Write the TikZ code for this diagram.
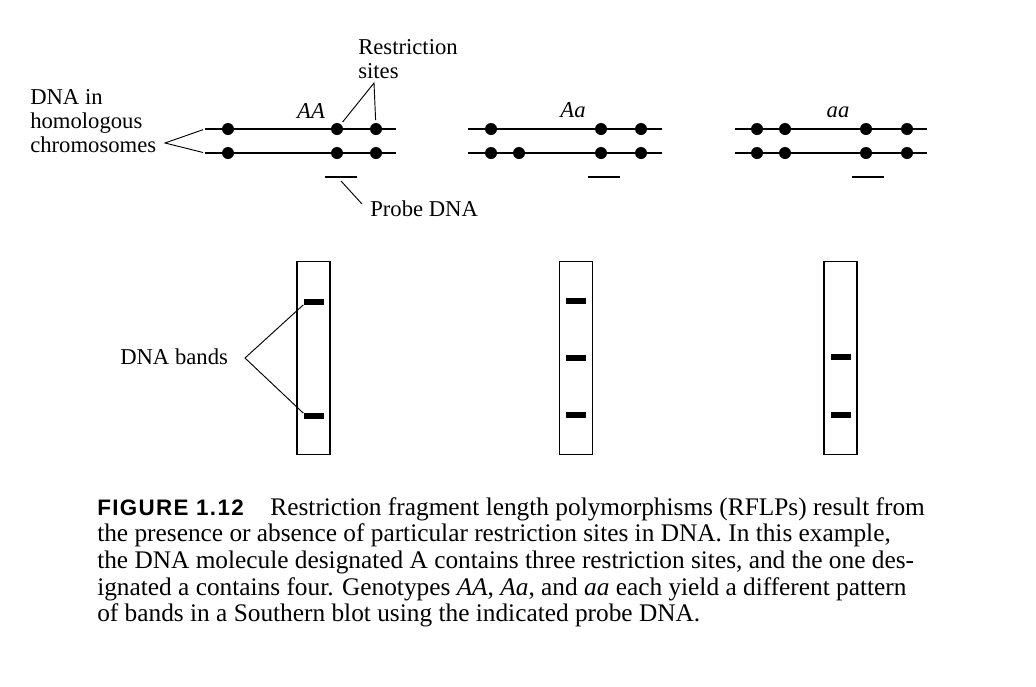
\documentclass[tikz,border=0pt]{standalone}
\usepackage{fontspec}
\setmainfont{Liberation Serif}
\newfontfamily\figfont[LetterSpace=6]{Liberation Sans}
\usetikzlibrary{positioning}
\tikzstyle{chrom}=[line width=1.4pt]
\tikzstyle{site}=[circle,fill,inner sep=0pt,minimum size=9pt]
\tikzstyle{lead}=[line width=.7pt]
\tikzstyle{gel}=[draw,line width=1.2pt,minimum width=24.75pt,minimum height=144.75pt,inner sep=0pt]
\tikzstyle{band}=[fill,inner sep=0pt,minimum width=15pt,minimum height=4pt]
\tikzstyle{lbl}=[inner sep=0pt,align=left,font=\fontsize{17}{18}\selectfont]
\tikzstyle{capt}=[inner sep=0pt,align=left,font=\fontsize{19}{20}\selectfont]
% one chromosome: name, start x, end x, y, x of the sites
\newcommand\chrom[5]{%
  \coordinate (#1-s) at (#2,#4);
  \coordinate (#1-e) at (#3,#4);
  \draw[chrom] (#1-s) -- (#1-e);
  \foreach \d [count=\i] in {#5} \node[site] (#1-\i) at (\d,#4) {};
}
\newcommand\probe[2]{%
  \coordinate (#1-pa) at (#2,177);
  \coordinate (#1-pb) at (#2+32,177);
  \draw[chrom] (#1-pa) -- (#1-pb);
}
\begin{document}
\begin{tikzpicture}[x=0.75pt,y=-0.75pt]
	\useasboundingbox (0,0) rectangle (1036,686);
	\chrom{AA-up}{205}{396}{129}{228,337,376}
	\chrom{AA-lo}{205}{396}{153}{228,337,376}
	\chrom{Aa-up}{468}{662}{129}{491,601,641}
	\chrom{Aa-lo}{468}{662}{153}{491,519,601,641}
	\chrom{aa-up}{735}{927}{129}{757,785,866,907}
	\chrom{aa-lo}{735}{927}{153}{757,785,866,907}
	\probe{AA}{325}
	\probe{Aa}{588}
	\probe{aa}{852}
	\node[lbl,anchor=base] (AA-lab) at (311,118) {\itshape AA};
	\node[lbl,anchor=base] (Aa-lab) at (573,117) {\itshape Aa};
	\node[lbl,anchor=base] (aa-lab) at (838,117) {\itshape aa};
	% labels and leaders
	\node[lbl,anchor=north west] (sites) at (358,39) {Restriction\\sites};
	\coordinate (sites-v) at (374,83);
	\draw[lead,shorten <=2pt,shorten >=2pt] (AA-up-2) -- (sites-v) -- (AA-up-3);
	\node[lbl,anchor=north west] (hom) at (30,89) {DNA in\\homologous\\chromosomes};
	\coordinate (hom-v) at (165,143);
	\draw[lead,shorten <=1.5pt,shorten >=1.5pt] (AA-up-s) -- (hom-v) -- (AA-lo-s);
	\node[lbl,anchor=base west] (probe) at (370,216) {Probe DNA};
	\coordinate (AA-pm) at (341,181);
	\coordinate (probe-v) at (362,204);
	\draw[lead] (AA-pm) -- (probe-v);
	% gels
	\node[gel] (AA-gel) at (313.5,358) {};
	\node[gel] (Aa-gel) at (576,358) {};
	\node[gel] (aa-gel) at (840.5,358) {};
	\node[band] (AA-b1) at (313.5,302) {};
	\node[band] (AA-b2) at (313.5,416) {};
	\node[band] (Aa-b1) at (576,301) {};
	\node[band] (Aa-b2) at (576,358) {};
	\node[band] (Aa-b3) at (576,415) {};
	\node[band] (aa-b1) at (841,357) {};
	\node[band] (aa-b2) at (841,415) {};
	\node[lbl,anchor=base west] (bands) at (120,364) {DNA bands};
	\coordinate (bands-v) at (245,358);
	\draw[lead] (AA-b1.south west) -- (bands-v) -- (AA-b2.north west);
	% caption
	\node[capt,anchor=north west] (cap) at (97,497) {{\figfont\bfseries\fontsize{16.8}{20}\selectfont FIGURE 1.12}\hspace{20pt}Restriction fragment length polymorphisms (RFLPs) result from\\
	the presence or absence of particular restriction sites in DNA. In this example,\\
	the DNA molecule designated A contains three restriction sites, and the one des-\\
	ignated a contains four. Genotypes \textit{AA}, \textit{Aa}, and \textit{aa} each yield a different pattern\\
	of bands in a Southern blot using the indicated probe DNA.};
\end{tikzpicture}
\end{document}
